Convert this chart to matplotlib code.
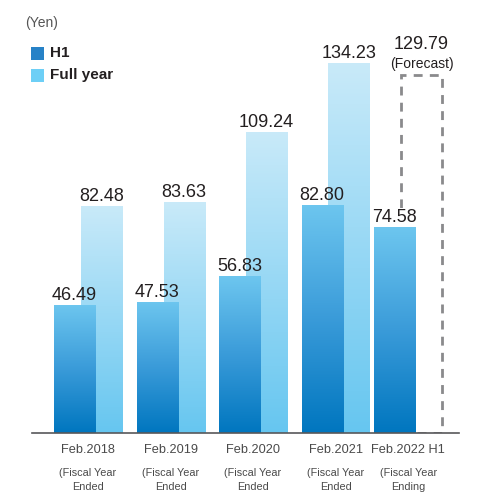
import numpy as np
import matplotlib
matplotlib.use("Agg")
import matplotlib.pyplot as plt
from matplotlib import font_manager
from matplotlib.colors import LinearSegmentedColormap
from matplotlib.patches import Rectangle

# ---- data -------------------------------------------------------------
periods = ["Feb.2018", "Feb.2019", "Feb.2020", "Feb.2021", "Feb.2022 H1"]
period_notes = [
    "(Fiscal Year\nEnded",
    "(Fiscal Year\nEnded",
    "(Fiscal Year\nEnded",
    "(Fiscal Year\nEnded",
    "(Fiscal Year\nEnding",
]
h1_values = [46.49, 47.53, 56.83, 82.80, 74.58]
full_year_values = [82.48, 83.63, 109.24, 134.23]
forecast_value = 129.79
unit_label = "(Yen)"
legend_labels = ["H1", "Full year"]

# ---- style ------------------------------------------------------------
available = {f.name for f in font_manager.fontManager.ttflist}
base_font = "Liberation Sans" if "Liberation Sans" in available else "DejaVu Sans"
plt.rcParams["font.family"] = [base_font, "DejaVu Sans"]

text_dark = "#231f20"
text_gray = "#4a4a4a"
h1_cmap = LinearSegmentedColormap.from_list("h1", ["#0076bf", "#3a9bd9", "#6dc6ef"])
fy_cmap = LinearSegmentedColormap.from_list("fy", ["#66c6f0", "#c9eaf9"])

group_x = np.array([0.0, 1.0, 2.0, 3.0, 3.88])
bar_w = 0.497
offset = 0.1636

fig = plt.figure(figsize=(4.94, 4.92), dpi=100)
ax = fig.add_axes([32 / 494, (492 - 433) / 492, 427 / 494, (433 - 19.5) / 492])


def gradient_bars(bars, cmap, z):
    grad = np.linspace(0, 1, 256).reshape(-1, 1)
    for p in bars:
        x0, y0, w, h = p.get_x(), p.get_y(), p.get_width(), p.get_height()
        im = ax.imshow(grad, extent=[x0, x0 + w, y0, y0 + h], origin="lower",
                       aspect="auto", cmap=cmap, zorder=z, interpolation="bilinear")
        im.set_clip_path(p)


n_fy = len(full_year_values)
fy_bars = ax.bar(group_x[:n_fy] + offset, full_year_values, width=bar_w,
                 facecolor="none", edgecolor="none", zorder=1)
gradient_bars(fy_bars, fy_cmap, 1)

# forecast outline (sits behind the H1 bar)
ax.bar(group_x[-1] + offset, forecast_value, width=bar_w, facecolor="none",
       edgecolor="#8a8a8c", linewidth=2.0, linestyle=(0, (3.2, 2.6)), zorder=1.5)

h1_bars = ax.bar(group_x - offset, h1_values, width=bar_w,
                 facecolor="none", edgecolor="none", zorder=2)
gradient_bars(h1_bars, h1_cmap, 2)

ax.set_xlim(-0.679, 4.497)
ax.set_ylim(0, 150)

# value labels
val_fs = 13
for x, v in zip(group_x - offset, h1_values):
    ax.annotate(f"{v:.2f}", (x, v), xytext=(0, 5), textcoords="offset pixels",
                ha="center", va="baseline", fontsize=val_fs, color=text_dark, zorder=5)
for x, v in zip(group_x[:n_fy] + offset, full_year_values):
    ax.annotate(f"{v:.2f}", (x, v), xytext=(0, 5), textcoords="offset pixels",
                ha="center", va="baseline", fontsize=val_fs, color=text_dark, zorder=5)

# white knock-out under the latest H1 label, hiding the forecast outline there
ax.annotate(f"{h1_values[-1]:.2f}", (group_x[-1] - offset, h1_values[-1]), xytext=(0, 5),
            textcoords="offset pixels", ha="center", va="baseline", fontsize=val_fs,
            color="none", zorder=1.8,
            bbox=dict(boxstyle="square,pad=0.1", facecolor="white", edgecolor="none"))

fx = group_x[-1] + offset
ax.annotate("(Forecast)", (fx, forecast_value), xytext=(0, 7), textcoords="offset pixels",
            ha="center", va="baseline", fontsize=10, color=text_dark, zorder=5)
ax.annotate(f"{forecast_value:.2f}", (fx, forecast_value), xytext=(0, 26),
            textcoords="offset pixels", ha="center", va="baseline",
            fontsize=val_fs, color=text_dark, zorder=5)

# baseline
ax.axhline(0, color="#58585a", linewidth=1.2, zorder=6, clip_on=False)
for s in ax.spines.values():
    s.set_visible(False)
ax.set_yticks([])
ax.set_xticks(group_x)
ax.set_xticklabels([])
ax.tick_params(length=0)

# category labels
for x, name, note in zip(group_x, periods, period_notes):
    ax.annotate(name, (x, 0), xytext=(0, -17), textcoords="offset pixels",
                ha="center", va="center", fontsize=9.2, color=text_gray,
                annotation_clip=False)
    ax.annotate(note, (x, 0), xytext=(0, -35), textcoords="offset pixels",
                ha="center", va="top", fontsize=7.8, color=text_gray,
                linespacing=1.45, annotation_clip=False)

# unit + legend
fig.text(25 / 494, 1 - 23 / 492, unit_label, ha="left", va="center",
         fontsize=10, color="#555555")
legend_colors = ["#2782c7", "#6dcff6"]
for i, (lab, col) in enumerate(zip(legend_labels, legend_colors)):
    yc = 53 + i * 22
    fig.patches.append(Rectangle((31 / 494, 1 - (yc + 6.5) / 492), 13 / 494, 13 / 492,
                                 transform=fig.transFigure, facecolor=col,
                                 edgecolor="none"))
    fig.text(50 / 494, 1 - yc / 492, lab, ha="left", va="center",
             fontsize=11, fontweight="bold", color=text_dark)

fig.savefig("out.png", dpi=100)
